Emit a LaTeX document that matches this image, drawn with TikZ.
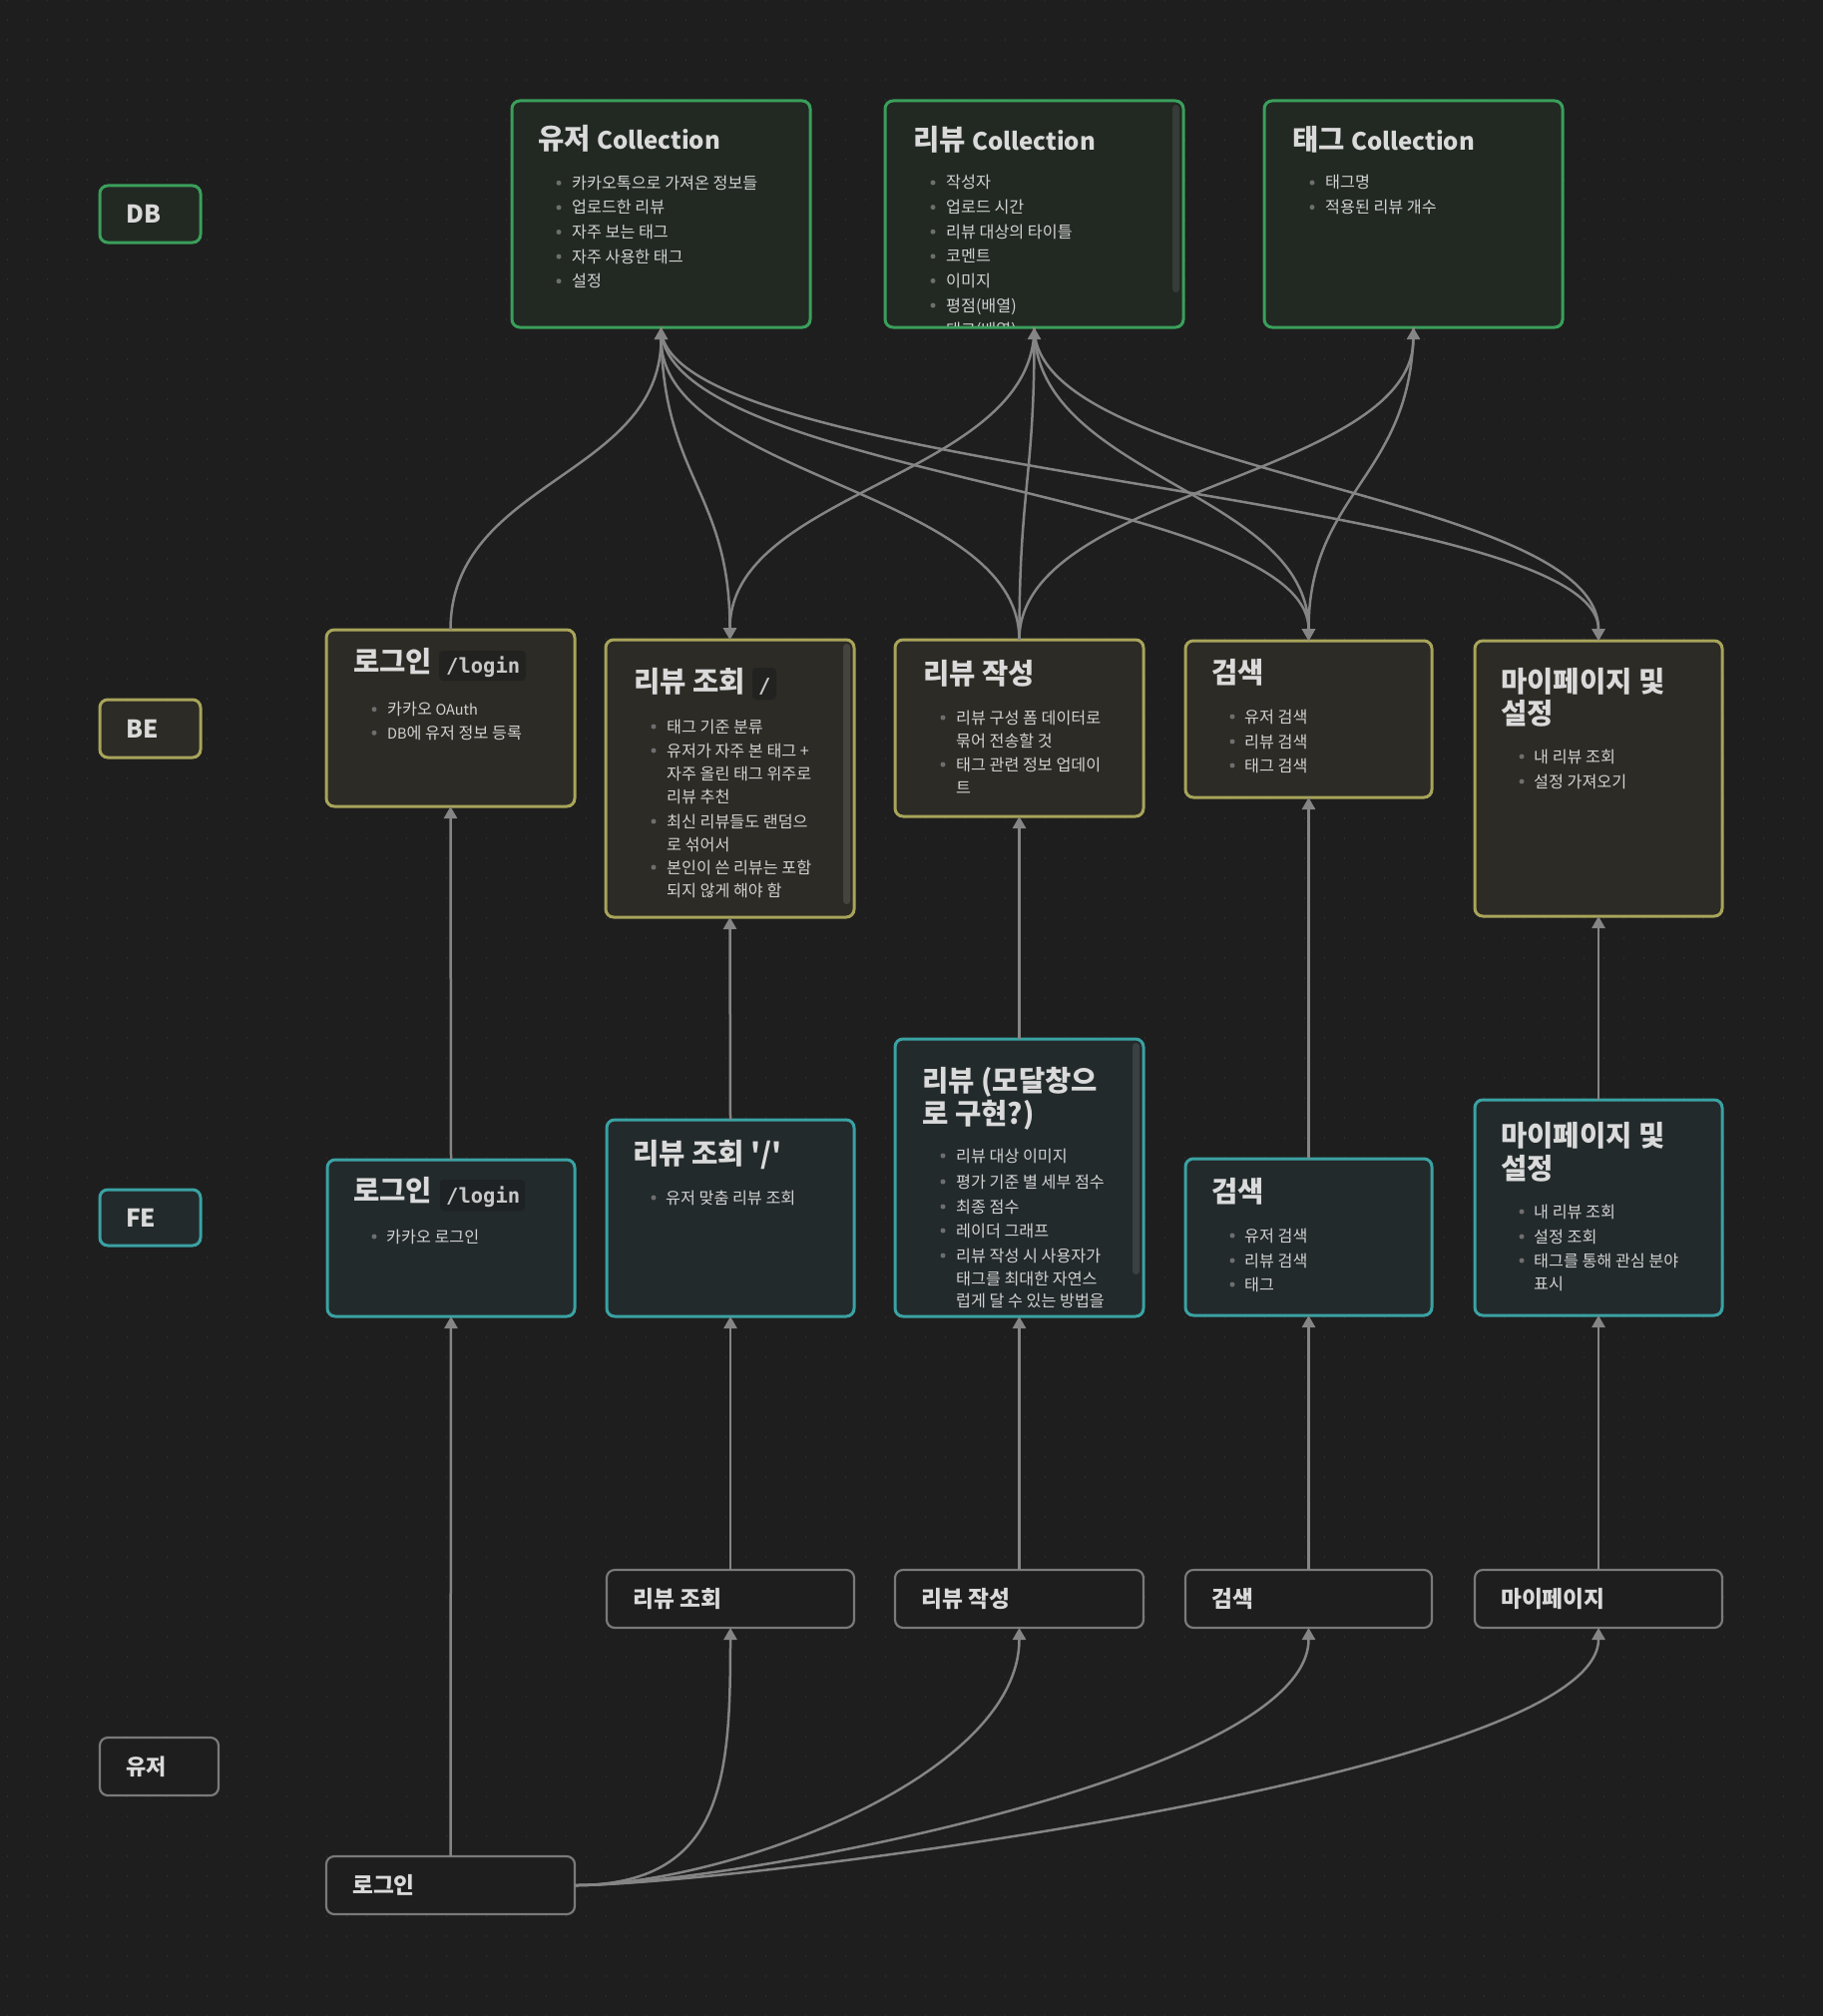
\documentclass[tikz,border=0pt]{standalone}
\usepackage{fontspec}
\setmainfont{Noto Sans CJK KR}
\newfontfamily\codefont{DejaVu Sans Mono}
\usetikzlibrary{arrows.meta}
\definecolor{bgc}{HTML}{1E1E1E}
\definecolor{gridc}{HTML}{2E2E2E}
\definecolor{dbB}{HTML}{3A9F5B}
\definecolor{dbF}{HTML}{222923}
\definecolor{beB}{HTML}{A8A45A}
\definecolor{beF}{HTML}{2C2B25}
\definecolor{feB}{HTML}{3AA2A3}
\definecolor{feF}{HTML}{232A2C}
\definecolor{usB}{HTML}{7A7A7A}
\definecolor{usF}{HTML}{1E1E1E}
\definecolor{lc}{HTML}{858585}
\definecolor{tc}{HTML}{DADADA}
\definecolor{bc}{HTML}{D2D2D2}
\definecolor{dotc}{HTML}{6E6E6E}
\definecolor{codeY}{HTML}{222220}
\definecolor{codeT}{HTML}{1E2224}
\definecolor{codet}{HTML}{C8C8C8}
\definecolor{sbG}{HTML}{363C38}
\definecolor{sbY}{HTML}{45443E}
\definecolor{sbT}{HTML}{3A4143}
\newcount\tnum
\newcommand\tx[4]{\global\advance\tnum by 1\relax
  \node[#1] (t\the\tnum) at (#2,{#3}) {#4};}
\newcommand\bi[4]{\fill[dotc] (#1,#3) circle (2.5pt);
  \tx{bodyt}{#2}{#3+6}{#4}}
\newcommand\bc[3]{\tx{bodyt}{#1}{#2+6}{#3}}
\newcommand\ti[3]{\tx{ttl}{#1}{#2+10.8}{#3}}
\newcommand\latT{\fontsize{24}{29}\selectfont}
\newcommand\latB{\fontsize{14.5}{17}\selectfont}
\begin{document}
\begin{tikzpicture}[x=1pt,y=-1pt,
  card/.style={rounded corners=8pt,line width=3pt,anchor=north west,inner sep=0pt,outer sep=0pt},
  dbcard/.style={card,draw=dbB,fill=dbF},
  becard/.style={card,draw=beB,fill=beF},
  fecard/.style={card,draw=feB,fill=feF},
  uscard/.style={card,draw=usB,fill=usF,line width=2.2pt},
  ttl/.style={anchor=base west,inner sep=0pt,text=tc,font=\fontsize{28.6}{33}\selectfont\bfseries},
  bodyt/.style={anchor=base west,inner sep=0pt,text=bc,font=\fontsize{16.2}{19}\selectfont},
  lanet/.style={anchor=base west,inner sep=0pt,text=tc,font=\fontsize{22}{26}\selectfont\bfseries},
  lanel/.style={lanet,font=\fontsize{24.5}{28}\selectfont\bfseries},
  ust/.style={anchor=base west,inner sep=0pt,text=tc,font=\fontsize{22.7}{26}\selectfont\bfseries},
  codet/.style={anchor=base west,inner sep=0pt,text=codet,font=\fontsize{20.5}{24}\selectfont\codefont\bfseries},
  conn/.style={draw=lc,line width=2.5pt},
  arr/.style={conn,-{Triangle[length=12pt,width=13pt]}}]
\useasboundingbox (0,0) rectangle (1827,2020);
\fill[bgc] (0,0) rectangle (1827,2020);
\foreach \yy in {0,20,...,2020}
  \draw[gridc,line width=1.6pt,dash pattern=on 1.6pt off 18.4pt] (6.5,\yy) -- (1827,\yy);

% ---------- lane labels ----------
\node[dbcard,minimum width=101pt,minimum height=57pt] (laneDB) at (100,186) {};
\node[becard,minimum width=101pt,minimum height=58pt] (laneBE) at (100,701) {};
\node[fecard,minimum width=101pt,minimum height=56pt] (laneFE) at (100,1192) {};
\node[uscard,minimum width=119pt,minimum height=58pt] (laneUS) at (100,1741) {};
\tx{lanel}{126}{214+9}{DB}
\tx{lanel}{126}{730+9}{BE}
\tx{lanel}{126}{1220+9}{FE}
\tx{lanet}{126}{1770+8.5}{유저}

% ---------- DB cards ----------
\node[dbcard,minimum width=299pt,minimum height=227pt] (dbU) at (513,101) {};
\node[dbcard,minimum width=299pt,minimum height=227pt] (dbR) at (887,101) {};
\node[dbcard,minimum width=299pt,minimum height=227pt] (dbT) at (1267,101) {};

\ti{539}{139}{유저 {\latT Collection}}
\bi{560}{573}{183.3}{카카오톡으로 가져온 정보들}
\bi{560}{573}{207.9}{업로드한 리뷰}
\bi{560}{573}{232.5}{자주 보는 태그}
\bi{560}{573}{257.1}{자주 사용한 태그}
\bi{560}{573}{281.7}{설정}

\ti{915}{139.5}{리뷰 {\latT Collection}}
\begin{scope}
\clip (889,103) rectangle (1184,326);
\bi{935}{948}{183}{작성자}
\bi{935}{948}{207.6}{업로드 시간}
\bi{935}{948}{232.2}{리뷰 대상의 타이틀}
\bi{935}{948}{256.8}{코멘트}
\bi{935}{948}{281.4}{이미지}
\bi{935}{948}{306}{평점(배열)}
\bi{935}{948}{330.6}{태그(배열)}
\end{scope}
\fill[sbG,rounded corners=3.5pt] (1175,105) rectangle (1182,293);

\ti{1295}{139.5}{태그 {\latT Collection}}
\bi{1315}{1328}{183}{태그명}
\bi{1315}{1328}{207.6}{적용된 리뷰 개수}

% ---------- BE cards ----------
\node[becard,minimum width=249pt,minimum height=177pt] (beLogin) at (327,631) {};
\node[becard,minimum width=249pt,minimum height=278pt] (beView) at (607,641) {};
\node[becard,minimum width=249pt,minimum height=177pt] (beWrite) at (897,641) {};
\node[becard,minimum width=247pt,minimum height=157pt] (beSearch) at (1188,642) {};
\node[becard,minimum width=248pt,minimum height=276pt] (beMy) at (1478,642) {};

\ti{354}{663}{로그인}
\fill[codeY,rounded corners=4pt] (440,652) rectangle (527,682);
\tx{codet}{447}{674.5}{/login}
\bi{375}{388}{710.7}{카카오 {\latB OAuth}}
\bi{375}{388}{734.3}{{\latB DB}에 유저 정보 등록}

\ti{635}{683}{리뷰 조회}
\fill[codeY,rounded corners=4pt] (754,669) rectangle (778,701);
\tx{codet}{760}{694}{/}
\bi{655}{668}{728}{태그 기준 분류}
\bi{655}{668}{752}{유저가 자주 본 태그 +}
\bc{668}{775}{자주 올린 태그 위주로}
\bc{668}{798}{리뷰 추천}
\bi{655}{668}{823}{최신 리뷰들도 랜덤으}
\bc{668}{846}{로 섞어서}
\bi{655}{668}{869}{본인이 쓴 리뷰는 포함}
\bc{668}{892}{되지 않게 해야 함}
\fill[sbY,rounded corners=3.5pt] (845,645) rectangle (852,906);

\ti{925}{675}{리뷰 작성}
\bi{945}{958}{719}{리뷰 구성 폼 데이터로}
\bc{958}{742}{묶어 전송할 것}
\bi{945}{958}{766}{태그 관련 정보 업데이}
\bc{958}{789}{트}

\ti{1214}{674}{검색}
\bi{1235}{1247}{718}{유저 검색}
\bi{1235}{1247}{743}{리뷰 검색}
\bi{1235}{1247}{767}{태그 검색}

\ti{1504}{683}{마이페이지 및}
\ti{1504}{715}{설정}
\bi{1525}{1537}{758}{내 리뷰 조회}
\bi{1525}{1537}{783}{설정 가져오기}

% ---------- FE cards ----------
\node[fecard,minimum width=248pt,minimum height=157pt] (feLogin) at (328,1162) {};
\node[fecard,minimum width=248pt,minimum height=197pt] (feView) at (608,1122) {};
\node[fecard,minimum width=249pt,minimum height=278pt] (feModal) at (897,1041) {};
\node[fecard,minimum width=247pt,minimum height=157pt] (feSearch) at (1188,1161) {};
\node[fecard,minimum width=248pt,minimum height=216pt] (feMy) at (1478,1102) {};

\ti{354}{1193}{로그인}
\fill[codeT,rounded corners=4pt] (441,1182) rectangle (526,1213);
\tx{codet}{447}{1205}{/login}
\bi{375}{387}{1239}{카카오 로그인}

\ti{634}{1156}{리뷰 조회 \textquotesingle/\textquotesingle}
\bi{655}{667}{1200}{유저 맞춤 리뷰 조회}

\ti{924}{1083}{리뷰 (모달창으}
\ti{924}{1116}{로 구현?)}
\bi{945}{958}{1158}{리뷰 대상 이미지}
\bi{945}{958}{1184}{평가 기준 별 세부 점수}
\bi{945}{958}{1209}{최종 점수}
\bi{945}{958}{1233}{레이더 그래프}
\bi{945}{958}{1258}{리뷰 작성 시 사용자가}
\bc{958}{1281}{태그를 최대한 자연스}
\bc{958}{1303}{럽게 달 수 있는 방법을}
\fill[sbT,rounded corners=3.5pt] (1135,1045) rectangle (1142,1277);

\ti{1214}{1194}{검색}
\bi{1235}{1247}{1238}{유저 검색}
\bi{1235}{1247}{1263}{리뷰 검색}
\bi{1235}{1247}{1287}{태그}

\ti{1504}{1138}{마이페이지 및}
\ti{1504}{1171}{설정}
\bi{1525}{1537}{1214}{내 리뷰 조회}
\bi{1525}{1537}{1239}{설정 조회}
\bi{1525}{1537}{1263}{태그를 통해 관심 분야}
\bc{1537}{1286}{표시}

% ---------- user cards ----------
\node[uscard,minimum width=248pt,minimum height=58pt] (uView) at (608,1573) {};
\node[uscard,minimum width=249pt,minimum height=58pt] (uWrite) at (897,1573) {};
\node[uscard,minimum width=247pt,minimum height=58pt] (uSearch) at (1188,1573) {};
\node[uscard,minimum width=248pt,minimum height=58pt] (uMy) at (1478,1573) {};
\node[uscard,minimum width=249pt,minimum height=58pt] (uLogin) at (327,1860) {};
\tx{ust}{634}{1602+8.6}{리뷰 조회}
\tx{ust}{923}{1602+8.6}{리뷰 작성}
\tx{ust}{1214}{1602+8.6}{검색}
\tx{ust}{1504}{1602+8.6}{마이페이지}
\tx{ust}{353}{1889+8.6}{로그인}

% ---------- connectors: user -> FE -> BE ----------
\draw[arr] (uLogin.north) -- (feLogin.south);
\draw[arr] (feLogin.north) -- (beLogin.south);
\draw[arr] (uView.north) -- (feView.south);
\draw[arr] (feView.north) -- (beView.south);
\draw[arr] (uWrite.north) -- (feModal.south);
\draw[arr] (feModal.north) -- (beWrite.south);
\draw[arr] (uSearch.north) -- (feSearch.south);
\draw[arr] (feSearch.north) -- (beSearch.south);
\draw[arr] (uMy.north) -- (feMy.south);
\draw[arr] (feMy.north) -- (beMy.south);

\draw[arr] (uLogin.east) .. controls +(150,0) and +(0,150) .. (uView.south);
\draw[arr] (uLogin.east) .. controls +(150,0) and +(0,150) .. (uWrite.south);
\draw[arr] (uLogin.east) .. controls +(150,0) and +(0,150) .. (uSearch.south);
\draw[arr] (uLogin.east) .. controls +(150,0) and +(0,150) .. (uMy.south);

% ---------- connectors: BE <-> DB ----------
\draw[arr] (beLogin.north) .. controls +(0,-150) and +(0,150) .. (dbU.south);
\draw[arr] (dbU.south) .. controls +(0,150) and +(0,-150) .. (beView.north);
\draw[arr] (beWrite.north) .. controls +(0,-150) and +(0,150) .. (dbU.south);
\draw[arr] (dbU.south) .. controls +(0,150) and +(0,-150) .. (beSearch.north);
\draw[arr] (dbU.south) .. controls +(0,150) and +(0,-150) .. (beMy.north);
\draw[arr] (dbR.south) .. controls +(0,150) and +(0,-150) .. (beView.north);
\draw[arr] (beWrite.north) .. controls +(0,-150) and +(0,150) .. (dbR.south);
\draw[arr] (dbR.south) .. controls +(0,150) and +(0,-150) .. (beSearch.north);
\draw[arr] (dbR.south) .. controls +(0,150) and +(0,-150) .. (beMy.north);
\draw[arr] (beWrite.north) .. controls +(0,-150) and +(0,150) .. (dbT.south);
\draw[arr] (dbT.south) .. controls +(0,150) and +(0,-150) .. (beSearch.north);
\end{tikzpicture}
\end{document}
